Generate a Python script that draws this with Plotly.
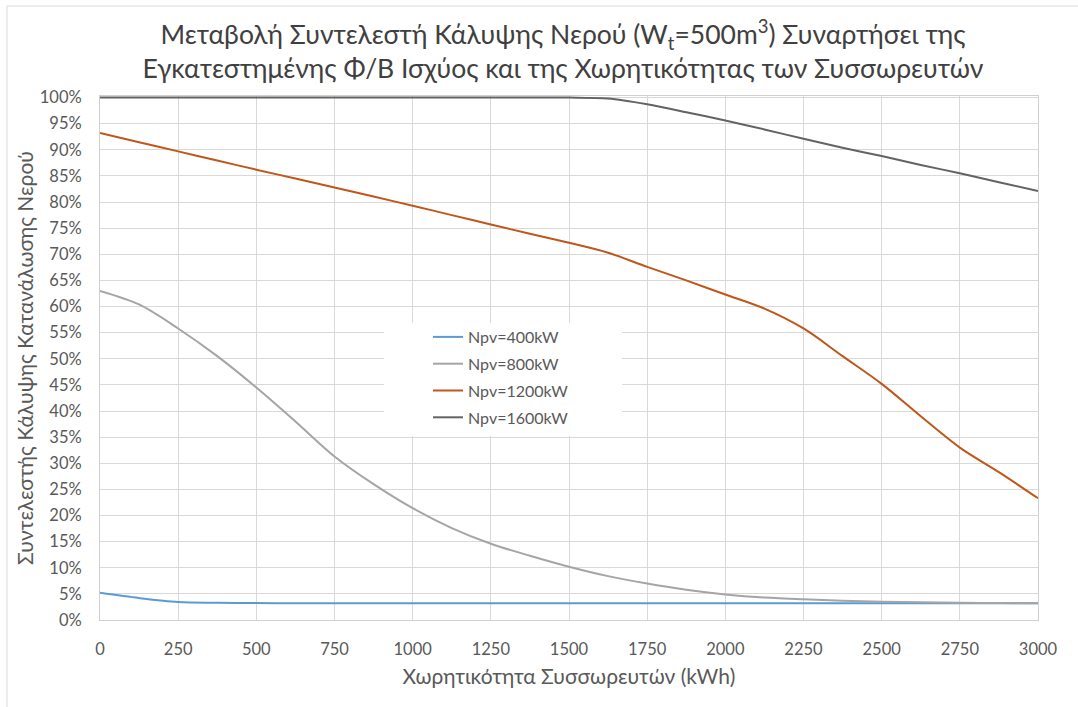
import plotly.graph_objects as go

# Battery capacity (kWh)
capacity = [0, 125, 250, 375, 500, 625, 750, 875, 1000, 1125, 1250, 1375, 1500,
            1625, 1750, 1875, 2000, 2125, 2250, 2375, 2500, 2625, 2750, 2875, 3000]

npv400 = [5.2, 4.2, 3.45, 3.3, 3.25, 3.2, 3.2, 3.2, 3.2, 3.2, 3.2, 3.2, 3.2,
          3.2, 3.2, 3.2, 3.2, 3.2, 3.2, 3.2, 3.2, 3.2, 3.2, 3.2, 3.2]
npv800 = [63.0, 60.4, 55.8, 50.5, 44.5, 38.0, 31.3, 26.0, 21.4, 17.6, 14.6, 12.3, 10.2,
          8.4, 7.0, 5.8, 4.9, 4.3, 3.95, 3.7, 3.5, 3.4, 3.3, 3.25, 3.2]
npv1200 = [93.2, 91.45, 89.7, 87.95, 86.2, 84.5, 82.8, 81.05, 79.3, 77.5, 75.7, 73.95, 72.2,
           70.3, 67.6, 65.0, 62.3, 59.6, 55.8, 50.5, 45.2, 39.0, 33.0, 28.3, 23.3]
npv1600 = [100, 100, 100, 100, 100, 100, 100, 100, 100, 100, 100, 100, 100,
           99.8, 98.7, 97.2, 95.6, 93.9, 92.1, 90.4, 88.8, 87.1, 85.5, 83.8, 82.1]

series_names = ["Npv=400kW", "Npv=800kW", "Npv=1200kW", "Npv=1600kW"]
series_values = [npv400, npv800, npv1200, npv1600]
series_colors = ["#5B9BD5", "#A5A5A5", "#C0561A", "#636363"]

fig = go.Figure()
for i, (name, vals, col) in enumerate(zip(series_names, series_values, series_colors)):
    fig.add_trace(go.Scatter(
        x=capacity, y=vals, name=name, mode="lines", legendgroup=f"g{i}",
        line=dict(color=col, width=2, shape="spline", smoothing=0.9),
    ))

font_family = "Lato, Carlito, 'Open Sans', sans-serif"

fig.update_layout(
    width=1078, height=707,
    margin=dict(l=100, r=40, t=96, b=87),
    paper_bgcolor="white", plot_bgcolor="white",
    font=dict(family=font_family, color="#595959", size=16),
    title=dict(
        text="Μεταβολή Συντελεστή Κάλυψης Νερού (W<sub>t</sub>=500m<sup>3</sup>) Συναρτήσει της<br>"
             "Εγκατεστημένης Φ/Β Ισχύος και της Χωρητικότητας των Συσσωρευτών",
        x=563 / 1078, xanchor="center", xref="container",
        y=1 - 44 / 707, yanchor="top", yref="container",
        font=dict(size=26.5, color="#404040", family=font_family),
    ),
    xaxis=dict(
        range=[0, 3000], dtick=250, tick0=0,
        showgrid=True, gridcolor="#D9D9D9", gridwidth=1,
        showline=True, linecolor="#D0D0D0", linewidth=1, mirror=True,
        ticks="", ticklabelstandoff=14, zeroline=False,
        tickfont=dict(size=16.5, color="#595959"),
        title=dict(text="Χωρητικότητα Συσσωρευτών (kWh)", standoff=11,
                   font=dict(size=21, color="#595959")),
    ),
    yaxis=dict(
        range=[0, 100.3], dtick=5, tick0=0, ticksuffix="%",
        showgrid=True, gridcolor="#D9D9D9", gridwidth=1,
        showline=True, linecolor="#D0D0D0", linewidth=1, mirror=True,
        ticks="", ticklabelstandoff=14, zeroline=False,
        tickfont=dict(size=16.5, color="#595959"),
        title=dict(text="Συντελεστής Κάλυψης Κατανάλωσης Νερού", standoff=0,
                   font=dict(size=21, color="#595959")),
    ),
    legend=dict(
        x=(428 - 100) / 938, y=(620 - 320) / 524, xanchor="left", yanchor="top",
        bgcolor="rgba(0,0,0,0)", borderwidth=0,
        font=dict(size=16, color="#595959"),
        tracegroupgap=3, itemwidth=30,
    ),
    showlegend=True,
)

# White backdrop behind the legend (covers gridlines as in the reference)
fig.add_shape(type="rect", xref="paper", yref="paper",
              x0=(384 - 100) / 938, x1=(622 - 100) / 938,
              y0=(620 - 436) / 524, y1=(620 - 323) / 524,
              line=dict(width=0), fillcolor="white", layer="above")

# Outer chart frame
fig.add_shape(type="rect", xref="paper", yref="paper",
              x0=(7 - 100) / 938, x1=1.2, y0=-0.5, y1=(620 - 6) / 524,
              line=dict(color="#D9D9D9", width=1), fillcolor="rgba(0,0,0,0)", layer="below")

fig.write_html("out.html")
